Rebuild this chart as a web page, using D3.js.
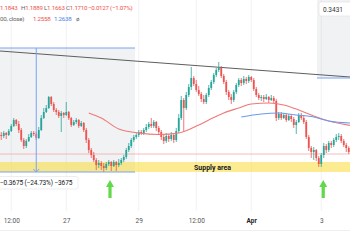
<!DOCTYPE html>
<html lang="en">
<head>
<meta charset="UTF-8" />
<title>Candles with supply area</title>
<style>
  html, body { margin: 0; padding: 0; background: #fff; }
  svg { display: block; font-family: Roboto, "Noto Sans", sans-serif; }
</style>
</head>
<body>
<svg width="350" height="250"></svg>
<script src="https://d3js.org/d3.v7.min.js"></script>
<script>
  // candle data (open = previous close)
  const firstOpen = 1.223;
  const closes = [
    1.220,1.229,1.223,1.235,1.250,1.268,1.256,1.238,1.208,1.190,
    1.205,1.217,1.229,1.226,1.214,1.238,1.274,1.292,1.304,1.337,
    1.316,1.298,1.292,1.280,1.289,1.283,1.292,1.274,1.253,1.262,
    1.268,1.250,1.259,1.238,1.208,1.178,1.163,1.148,1.133,1.139,
    1.130,1.124,1.136,1.142,1.130,1.142,1.133,1.139,1.148,1.157,
    1.178,1.190,1.208,1.217,1.223,1.232,1.229,1.238,1.247,1.256,
    1.250,1.262,1.244,1.232,1.217,1.205,1.220,1.211,1.223,1.208,
    1.235,1.274,1.328,1.304,1.343,1.367,1.394,1.376,1.358,1.346,
    1.331,1.322,1.343,1.364,1.382,1.403,1.418,1.424,1.400,1.382,
    1.352,1.337,1.328,1.352,1.373,1.388,1.379,1.391,1.385,1.397,
    1.388,1.361,1.343,1.334,1.337,1.331,1.337,1.328,1.334,1.325,
    1.274,1.286,1.274,1.283,1.268,1.280,1.271,1.253,1.262,1.283,
    1.274,1.262,1.217,1.184,1.172,1.178,1.154,1.136,1.163,1.190,
    1.178,1.199,1.193,1.208,1.217,1.220,1.205,1.193,1.184,1.172
  ];
  const highs = [
    1.232,1.235,1.232,1.241,1.256,1.274,1.271,1.265,1.244,1.214,
    1.211,1.226,1.235,1.235,1.232,1.247,1.283,1.304,1.313,1.340,
    1.340,1.322,1.304,1.298,1.295,1.292,1.322,1.295,1.277,1.268,
    1.274,1.271,1.265,1.262,1.244,1.214,1.184,1.172,1.154,1.148,
    1.145,1.139,1.142,1.148,1.145,1.148,1.145,1.151,1.154,1.163,
    1.184,1.199,1.214,1.223,1.229,1.238,1.238,1.244,1.256,1.262,
    1.274,1.268,1.265,1.250,1.238,1.226,1.229,1.226,1.232,1.229,
    1.244,1.286,1.340,1.334,1.352,1.376,1.427,1.400,1.388,1.370,
    1.352,1.343,1.349,1.373,1.388,1.409,1.424,1.442,1.430,1.406,
    1.388,1.358,1.346,1.358,1.379,1.394,1.394,1.400,1.397,1.403,
    1.400,1.394,1.367,1.349,1.343,1.343,1.346,1.340,1.343,1.340,
    1.331,1.292,1.292,1.289,1.289,1.286,1.286,1.277,1.268,1.289,
    1.289,1.280,1.268,1.223,1.190,1.187,1.181,1.160,1.169,1.199,
    1.196,1.205,1.205,1.214,1.226,1.229,1.226,1.211,1.199,1.189
  ];
  const lows = [
    1.208,1.214,1.211,1.220,1.232,1.247,1.250,1.229,1.202,1.181,
    1.184,1.202,1.214,1.220,1.208,1.211,1.235,1.271,1.289,1.301,
    1.310,1.292,1.283,1.274,1.232,1.274,1.280,1.268,1.247,1.250,
    1.256,1.244,1.247,1.232,1.199,1.169,1.154,1.142,1.118,1.124,
    1.118,1.112,1.118,1.130,1.115,1.127,1.115,1.127,1.133,1.142,
    1.151,1.172,1.184,1.202,1.211,1.217,1.223,1.223,1.232,1.241,
    1.244,1.244,1.235,1.226,1.208,1.196,1.199,1.202,1.205,1.199,
    1.202,1.229,1.268,1.232,1.298,1.337,1.358,1.370,1.352,1.340,
    1.322,1.316,1.316,1.337,1.358,1.376,1.397,1.412,1.394,1.376,
    1.343,1.328,1.316,1.322,1.346,1.367,1.370,1.373,1.376,1.379,
    1.382,1.355,1.337,1.328,1.325,1.322,1.328,1.319,1.325,1.319,
    1.265,1.268,1.268,1.271,1.262,1.265,1.262,1.244,1.226,1.259,
    1.268,1.256,1.211,1.175,1.154,1.148,1.145,1.127,1.127,1.154,
    1.169,1.172,1.184,1.187,1.202,1.208,1.199,1.187,1.172,1.166
  ];

  // moving averages (candle index, value)
  const maRedIdx = [35, 40, 47, 55, 63, 71, 79, 83, 89, 95, 100, 107, 113, 119, 125, 131, 139.5];
  const maRedVal = [1.289,1.274,1.241,1.229,1.2245,1.229,1.253,1.268,1.289,1.304,1.316,1.319,1.313,1.298,1.280,1.265,1.252];
  const maBlueIdx = [96, 104, 111, 118, 125, 131, 139.5];
  const maBlueVal = [1.277,1.286,1.289,1.283,1.277,1.265,1.259];

  // time axis
  const tickIdx = [4, 26, 55, 78, 100, 128];
  const tickLabels = ["12:00", "27", "29", "12:00", "Apr", "3"];

  // drawings
  const trendIdx = [-0.5, 139.5];
  const trendVal = [1.475, 1.397];
  const supplyTop = 1.142, supplyBottom = 1.112;
  const lowLine = 1.166;
  const rangeLeft = { i0: -1, i1: 53.5, top: 1.484, bottom: 1.112, mid: 14 };
  const rangeRight = { i0: 126.3, i1: 141, top: 1.7, bottom: 1.394 };
  const arrowIdx = [43.5, 128.8];

  const W = 350, H = 250;
  const svg = d3.select("svg");
  const x = d3.scaleLinear().domain([-0.5, closes.length - 0.5]).range([0, W]);
  const y = d3.scaleLinear().domain([1.628, 0.878]).range([0, H]);

  const candles = closes.map((c, i) => ({
    i, o: i ? closes[i - 1] : firstOpen, c, h: highs[i], l: lows[i]
  }));

  // faint grid
  svg.append("g").selectAll("line").data(tickIdx).join("line")
    .attr("x1", d => x(d)).attr("x2", d => x(d))
    .attr("y1", 0).attr("y2", 211)
    .attr("stroke", "#f2f2f4").attr("stroke-width", 1);

  // measurement boxes (gray fill)
  const boxes = [rangeLeft, rangeRight];
  svg.append("g").selectAll("rect").data(boxes).join("rect")
    .attr("x", d => x(d.i0)).attr("width", d => x(d.i1) - x(d.i0))
    .attr("y", d => y(d.top)).attr("height", d => y(d.bottom) - y(d.top))
    .attr("fill", "rgba(120,123,134,0.1)");

  // supply area
  svg.append("rect")
    .attr("x", 0).attr("width", W)
    .attr("y", y(supplyTop)).attr("height", y(supplyBottom) - y(supplyTop))
    .attr("fill", "rgba(250,222,70,0.6)");
  svg.append("text")
    .attr("x", x(84.5)).attr("y", y(supplyTop) + 7.6)
    .attr("text-anchor", "middle")
    .attr("font-size", 7).attr("font-weight", "bold").attr("fill", "#131722")
    .text("Supply area");

  // horizontal low line
  svg.append("line")
    .attr("x1", 0).attr("x2", W)
    .attr("y1", y(lowLine)).attr("y2", y(lowLine))
    .attr("stroke", "#f4aaaa").attr("stroke-width", 0.8);

  // trend line
  svg.append("line")
    .attr("x1", x(trendIdx[0])).attr("y1", y(trendVal[0]))
    .attr("x2", x(trendIdx[1])).attr("y2", y(trendVal[1]))
    .attr("stroke", "#5e5e5e").attr("stroke-width", 1);

  // candles
  const up = "#26a69a", down = "#ef5350";
  const cg = svg.append("g").selectAll("g").data(candles).join("g")
    .attr("fill", d => d.c <= d.o ? down : up)
    .attr("stroke", d => d.c <= d.o ? down : up);
  cg.append("line")
    .attr("x1", d => x(d.i)).attr("x2", d => x(d.i))
    .attr("y1", d => y(d.h)).attr("y2", d => y(d.l))
    .attr("stroke-width", 0.8);
  cg.append("rect")
    .attr("stroke", "none")
    .attr("x", d => x(d.i) - 0.9).attr("width", 1.8)
    .attr("y", d => y(Math.max(d.o, d.c)))
    .attr("height", d => Math.max(0.8, Math.abs(y(d.o) - y(d.c))));

  // moving averages
  const maLine = d3.line().x(d => x(d[0])).y(d => y(d[1])).curve(d3.curveMonotoneX);
  svg.append("path")
    .attr("d", maLine(d3.zip(maRedIdx, maRedVal)))
    .attr("fill", "none").attr("stroke", "#f07878").attr("stroke-width", 1.1);
  svg.append("path")
    .attr("d", maLine(d3.zip(maBlueIdx, maBlueVal)))
    .attr("fill", "none").attr("stroke", "#6d9ae8").attr("stroke-width", 1.1);

  // measurement blue lines
  const blue = "#7ba3f2";
  const mg = svg.append("g").attr("stroke", blue).attr("stroke-width", 1).attr("fill", "none");
  mg.append("line").attr("x1", x(rangeLeft.i0)).attr("x2", x(rangeLeft.i1))
    .attr("y1", y(rangeLeft.top)).attr("y2", y(rangeLeft.top));
  mg.append("line").attr("x1", x(rangeLeft.i0)).attr("x2", x(rangeLeft.i1))
    .attr("y1", y(rangeLeft.bottom)).attr("y2", y(rangeLeft.bottom));
  mg.append("line").attr("x1", x(rangeLeft.mid)).attr("x2", x(rangeLeft.mid))
    .attr("y1", y(rangeLeft.top)).attr("y2", y(rangeLeft.bottom));
  mg.append("path")
    .attr("d", `M${x(rangeLeft.mid) - 3},${y(rangeLeft.bottom) - 3}L${x(rangeLeft.mid)},${y(rangeLeft.bottom)}L${x(rangeLeft.mid) + 3},${y(rangeLeft.bottom) - 3}`);
  mg.append("line").attr("x1", x(rangeRight.i0)).attr("x2", x(rangeRight.i1))
    .attr("y1", y(rangeRight.bottom)).attr("y2", y(rangeRight.bottom));

  // measurement label
  const lab = svg.append("g");
  lab.append("rect").attr("x", -3).attr("y", 176.5).attr("width", 81).attr("height", 12.5)
    .attr("rx", 2).attr("fill", "#fff").attr("stroke", "#e6e7eb").attr("stroke-width", 0.7);
  lab.append("text").attr("x", 0).attr("y", 185.3)
    .attr("font-size", 6.5).attr("fill", "#131722")
    .attr("letter-spacing", -0.1)
    .text("−0.3675 (−24.73%) −3675");

  // green arrows
  const arrow = d => {
    const cx = x(d), t = 180;
    return `M${cx},${t}L${cx + 4},${t + 7}L${cx + 1.6},${t + 7}L${cx + 1.6},${t + 18}` +
           `L${cx - 1.6},${t + 18}L${cx - 1.6},${t + 7}L${cx - 4},${t + 7}Z`;
  };
  svg.append("g").selectAll("path").data(arrowIdx).join("path")
    .attr("d", arrow).attr("fill", "#62d94a");

  // header legend
  const red = "#ef5350", grey = "#666";
  const head = [
    { x: 0, y: 10, parts: [["1.1843", red]] },
    { x: 21, y: 10, parts: [["H", grey], ["1.1889", red]] },
    { x: 44, y: 10, parts: [["L", grey], ["1.1663", red]] },
    { x: 66, y: 10, parts: [["C", grey], ["1.1710", red]] },
    { x: 88, y: 10, parts: [["−0.0127 (−1.07%)", red]] },
    { x: 0, y: 21, parts: [["00, close)", grey]] },
    { x: 33, y: 21, parts: [["1.2558", red]] },
    { x: 54, y: 21, parts: [["1.2638", "#4a86e8"]] },
    { x: 76, y: 21, parts: [["ø", grey]] }
  ];
  const ht = svg.append("g").selectAll("text").data(head).join("text")
    .attr("x", d => d.x).attr("y", d => d.y)
    .attr("font-size", 6.2).attr("letter-spacing", -0.25);
  ht.selectAll("tspan").data(d => d.parts).join("tspan")
    .attr("fill", d => d[1]).text(d => d[0]);

  // price tag at top right
  svg.append("rect").attr("x", 319).attr("y", 2).attr("width", 35).attr("height", 14)
    .attr("rx", 2).attr("fill", "#fff").attr("stroke", "#e2e4ea").attr("stroke-width", 0.7);
  svg.append("text").attr("x", 323).attr("y", 12)
    .attr("font-size", 6.5).attr("fill", "#333").text("0.3431");

  // time axis
  const axis = d3.axisBottom(x)
    .tickValues(tickIdx)
    .tickFormat((d, k) => tickLabels[k])
    .tickSize(0).tickPadding(0);
  const ax = svg.append("g").attr("transform", "translate(0,218.7)").call(axis);
  ax.select(".domain").remove();
  ax.selectAll("text")
    .attr("font-size", 6.5)
    .attr("font-family", "Roboto, 'Noto Sans', sans-serif")
    .attr("font-weight", (d, k) => tickLabels[k] === "Apr" ? "bold" : null)
    .attr("fill", (d, k) => tickLabels[k] === "Apr" ? "#222" : "#555");
  svg.append("line").attr("x1", 0).attr("x2", W).attr("y1", 230.5).attr("y2", 230.5)
    .attr("stroke", "#eeeff2").attr("stroke-width", 1);
</script>
</body>
</html>
